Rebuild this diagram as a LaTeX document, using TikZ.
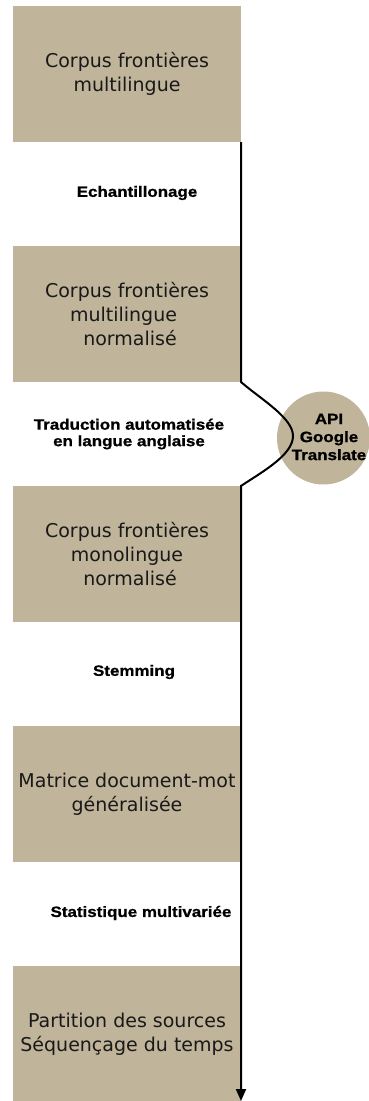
\documentclass[tikz,border=0pt]{standalone}
\usepackage{fontspec}
\usetikzlibrary{arrows.meta}
\newfontfamily\boxfont{DejaVu Sans}
\newfontfamily\lblfont[UprightFont=* Bold,FakeStretch=1.13,FakeBold=1]{Liberation Sans}
\definecolor{sable}{RGB}{192,180,154}
\begin{document}
\begin{tikzpicture}[x=1pt,y=-1pt,
    etape/.style={rectangle,fill=sable,minimum width=228pt,minimum height=136pt,inner sep=0pt,
      align=center,text=black!90,font=\boxfont\fontsize{19}{24}\selectfont},
    operation/.style={align=center,font=\lblfont\fontsize{15}{16.5}\selectfont},
    outil/.style={circle,fill=sable,minimum size=93pt,inner sep=0pt}]
    \useasboundingbox (0,0) rectangle (368,1101);
    \begin{scope}
      \node[etape] (corpusA) at (127,74)   {Corpus frontières\\multilingue};
      \node[etape] (corpusB) at (127,314)  {Corpus frontières\\multilingue\kern7pt\\\kern6pt normalisé};
      \node[etape] (corpusC) at (127,554)  {Corpus frontières\\monolingue\\\kern6pt normalisé};
      \node[etape] (matrice) at (127,794)  {Matrice document-mot\\généralisée};
      \node[etape] (partition) at (127,1034) {Partition des sources\\Séquençage du temps};
      \node[outil] (api) at (323.5,438) {};
      \node[operation] at (137,193) {Echantillonage};
      \node[operation] at (129,434) {Traduction automatisée\\en langue anglaise};
      \node[operation] at (134,672) {Stemming};
      \node[operation] at (141,913) {Statistique multivariée};
      \node[operation,font=\lblfont\fontsize{15}{18}\selectfont] at (329,437) {API\\Google\\Translate};
      \coordinate (fin) at (241,1101);
      \draw[line width=2pt,-{Triangle[length=12pt,width=10pt]}]
        (corpusA.south east) -- (corpusB.south east)
        .. controls (262,400) and (293,418) .. (293,436)
        .. controls (293,455) and (262,472) .. (corpusC.north east) -- (fin);
    \end{scope}
  \end{tikzpicture}
\end{document}
